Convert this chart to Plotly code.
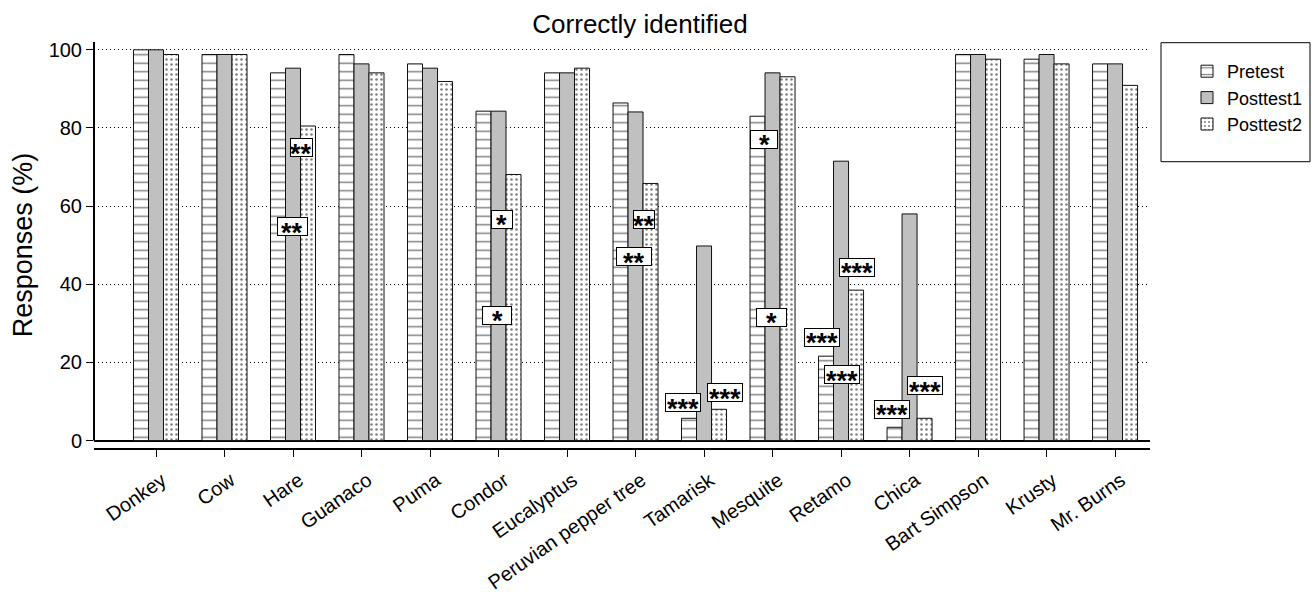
import plotly.graph_objects as go

categories = ["Donkey", "Cow", "Hare", "Guanaco", "Puma", "Condor", "Eucalyptus",
              "Peruvian pepper tree", "Tamarisk", "Mesquite", "Retamo", "Chica",
              "Bart Simpson", "Krusty", "Mr. Burns"]
pretest = [100, 98.8, 94.1, 98.8, 96.4, 84.3, 94.1, 86.4, 5.7, 83.0, 21.6, 3.4, 98.8, 97.6, 96.4]
posttest1 = [100, 98.8, 95.3, 96.4, 95.3, 84.3, 94.1, 84.1, 49.8, 94.1, 71.5, 58.0, 98.8, 98.8, 96.4]
posttest2 = [98.8, 98.8, 80.5, 94.1, 91.9, 68.1, 95.3, 65.8, 8.0, 93.1, 38.5, 5.7, 97.6, 96.4, 90.9]

y_ticks = [0, 20, 40, 60, 80, 100]

# significance labels (text, x in category units, y in %, box width px)
sig_text = ["**", "**", "*", "*", "**", "**", "***", "***", "*", "*", "***", "***", "***", "***", "***"]
sig_x = [2.12, 1.99, 5.05, 4.98, 7.13, 6.98, 7.70, 8.30, 8.88, 8.99, 10.24, 9.72, 10.01, 10.75, 11.22]
sig_y = [75.0, 54.7, 56.6, 32.1, 56.5, 47.0, 9.7, 12.2, 77.1, 31.6, 44.3, 26.4, 16.8, 8.0, 14.0]
sig_w = [23, 31, 22, 30, 22, 36, 36, 36, 28, 31, 36, 36, 36, 36, 36]

FONT = "Liberation Sans, Arial, sans-serif"
W, H = 1315, 603
L, R, T, B = 94, 165, 42, 155
PW, PH = W - L - R, H - T - B


def px_x(p):
    return (p - L) / PW


def px_y(p):
    return 1 - (p - T) / PH


fig = go.Figure()
fig.add_trace(go.Bar(
    name="Pretest", x=categories, y=pretest,
    marker=dict(color="white", line=dict(color="#111", width=1),
                pattern=dict(shape="-", fgcolor="black", bgcolor="white",
                             size=8.5, solidity=0.17, fillmode="overlay")),
))
fig.add_trace(go.Bar(
    name="Posttest1", x=categories, y=posttest1,
    marker=dict(color="#c0c0c0", line=dict(color="#111", width=1)),
))
fig.add_trace(go.Bar(
    name="Posttest2", x=categories, y=posttest2,
    marker=dict(color="white", line=dict(color="#111", width=1),
                pattern=dict(shape=".", fgcolor="black", bgcolor="white",
                             size=5, solidity=0.2, fillmode="overlay")),
))

for t, x, y, w in zip(sig_text, sig_x, sig_y, sig_w):
    # box
    fig.add_annotation(
        x=x, y=y, xref="x", yref="y", text=" ", showarrow=False,
        font=dict(size=10), bgcolor="white", bordercolor="black",
        borderwidth=1, borderpad=0, width=w - 2, height=17,
    )
    # stars
    fig.add_annotation(
        x=x, y=y, xref="x", yref="y", text=t, showarrow=False, yshift=-6,
        font=dict(family=FONT, size=27, color="black", weight="bold"),
    )

fig.update_layout(
    width=W, height=H,
    margin=dict(l=L, r=R, t=T, b=B, autoexpand=False),
    paper_bgcolor="white", plot_bgcolor="white",
    barmode="group", bargap=0.343, bargroupgap=0,
    font=dict(family=FONT, color="black"),
    title=dict(text="Correctly identified", x=px_x(640), xref="paper", xanchor="center",
               y=1 - 24 / H, yref="container", yanchor="middle",
               font=dict(size=26, family=FONT, color="black")),
    showlegend=True,
    legend=dict(x=px_x(1187), y=px_y(53), xanchor="left", yanchor="top",
                font=dict(size=18, family=FONT), bgcolor="rgba(0,0,0,0)",
                borderwidth=0, traceorder="normal"),
    xaxis=dict(range=[-0.905, 14.51], showline=True, linecolor="black", linewidth=2,
               ticks="outside", ticklen=7, tickwidth=1, tickcolor="black",
               tickangle=-35, tickfont=dict(size=20, family=FONT), showgrid=False,
               ticklabelshift=6, ticklabelstandoff=4, zeroline=False),
    yaxis=dict(range=[-1.9, 102], tickvals=y_ticks, showline=False,
               ticks="outside", ticklen=7, tickwidth=1, tickcolor="black",
               tickfont=dict(size=20, family=FONT),
               showgrid=True, gridcolor="black", gridwidth=1, griddash="1px,3px",
               zeroline=True, zerolinecolor="black", zerolinewidth=2,
               title=dict(text="Responses (%)", font=dict(size=27, family=FONT), standoff=8)),
)

# y-axis line from 0 to top
fig.add_shape(type="line", xref="paper", yref="y", x0=0, x1=0, y0=0, y1=102,
              line=dict(color="black", width=2))
# legend frame
fig.add_shape(type="rect", xref="paper", yref="paper",
              x0=px_x(1161), x1=px_x(1310), y0=px_y(161.7), y1=px_y(42.7),
              line=dict(color="black", width=1), fillcolor="rgba(0,0,0,0)")

fig.write_html("out.html", config={"displayModeBar": False},
               post_script="document.body.style.margin='0px';")
